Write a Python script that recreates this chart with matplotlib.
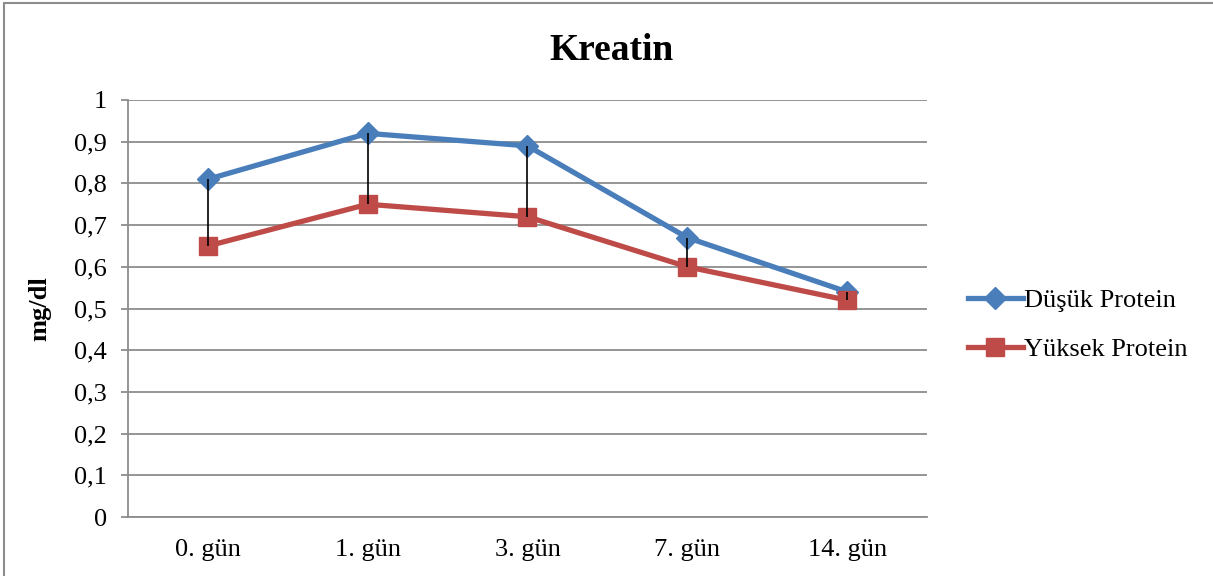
import matplotlib.pyplot as plt
from matplotlib.patches import Rectangle

# Kreatin values (mg/dl) per day
days = ["0. gün", "1. gün", "3. gün", "7. gün", "14. gün"]
dusuk = [0.81, 0.92, 0.89, 0.67, 0.54]
yuksek = [0.65, 0.75, 0.72, 0.60, 0.52]
yticks = [0, 0.1, 0.2, 0.3, 0.4, 0.5, 0.6, 0.7, 0.8, 0.9, 1.0]

plt.rcParams['font.family'] = ['Liberation Serif', 'DejaVu Serif']

fig = plt.figure(figsize=(12.13, 5.76), dpi=100)
ax = fig.add_axes([0.1055, 0.1024, 0.6587, 0.724])

# outer chart frame
fig.patches.append(Rectangle((0.0035, -0.05), 1.05, 1.045, transform=fig.transFigure,
                             fill=False, edgecolor='#8c8c8c', linewidth=1.5))

x = list(range(len(days)))
blue = '#4a7ebb'
red = '#be4b48'

ax.plot(x, dusuk, color=blue, linewidth=3.8, marker='D', markersize=11,
        markerfacecolor=blue, markeredgecolor=blue, label='Düşük Protein', zorder=3)
ax.plot(x, yuksek, color=red, linewidth=3.8, marker='s', markersize=13.5,
        markerfacecolor=red, markeredgecolor=red, label='Yüksek Protein', zorder=3)

# high-low lines between the two series
ax.vlines(x, yuksek, dusuk, color='black', linewidth=1.2, zorder=4)

ax.set_xlim(-0.5, len(days) - 0.5)
ax.set_ylim(0, 1)
ax.set_yticks(yticks)
ax.set_yticklabels([f"{v:g}".replace('.', ',') for v in yticks])
ax.set_xticks(x)
ax.set_xticklabels(days)
ax.tick_params(axis='x', length=0, labelsize=19, pad=16)
ax.tick_params(axis='y', length=5, width=1.3, color='#8c8c8c', labelsize=19, pad=10)

ax.grid(axis='y', color='#8c8c8c', linewidth=1.3)
ax.set_axisbelow(True)
for s in ['top', 'right']:
    ax.spines[s].set_visible(False)
for s in ['left', 'bottom']:
    ax.spines[s].set_color('#8c8c8c')
    ax.spines[s].set_linewidth(1.3)

fig.text(40 / 1213, 1 - 309 / 576, 'mg/dl', rotation=90, ha='center', va='center',
         fontsize=19, fontweight='bold')
fig.text(611 / 1213, 1 - 50 / 576, 'Kreatin', ha='center', va='center',
         fontsize=27, fontweight='bold')

fig.legend(*ax.get_legend_handles_labels(), loc='center left',
           bbox_to_anchor=(944 / 1213, 1 - 325 / 576), frameon=False,
           fontsize=19, handlelength=2.1, handletextpad=0.05, labelspacing=0.95)

fig.savefig('out.png', dpi=100)
